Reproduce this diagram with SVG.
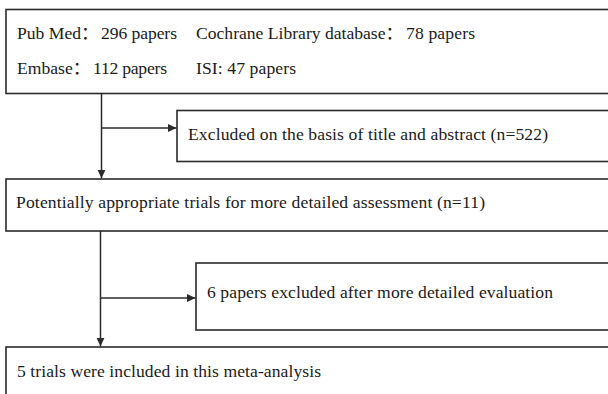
<svg xmlns="http://www.w3.org/2000/svg" width="608" height="394" viewBox="0 0 608 394">
<style>
.box{fill:#ffffff;stroke:#2a2a2a;stroke-width:1.6}
.t{font-family:"Liberation Serif","Noto Sans CJK SC",serif;font-size:17.6px;fill:#1a1a1a}
.c{fill:none;stroke:#2a2a2a;stroke-width:1.5}
</style>
<defs>
<marker id="ah" markerUnits="userSpaceOnUse" markerWidth="9" markerHeight="9" refX="8.5" refY="4" orient="auto">
<path d="M0,0 L8.5,4 L0,8 z" fill="#2a2a2a"/>
</marker>
</defs>
<rect width="608" height="394" fill="#ffffff"/>
<g id="sources">
<rect class="box" x="6" y="9.5" width="620" height="84"/>
<text class="t" x="17" y="39">Pub Med：</text>
<text class="t" x="101" y="39" textLength="76" lengthAdjust="spacing">296 papers</text>
<text class="t" x="196" y="39">Cochrane Library database：</text>
<text class="t" x="406" y="39" textLength="69" lengthAdjust="spacing">78 papers</text>
<text class="t" x="17" y="74">Embase：</text>
<text class="t" x="93" y="74" textLength="74" lengthAdjust="spacing">112 papers</text>
<text class="t" x="196" y="74" textLength="100" lengthAdjust="spacing">ISI: 47 papers</text>
</g>
<g id="excluded1">
<rect class="box" x="177" y="110.5" width="450" height="51"/>
<text class="t" x="188" y="140" textLength="360" lengthAdjust="spacing">Excluded on the basis of title and abstract (n=522)</text>
</g>
<g id="potential">
<rect class="box" x="6" y="179" width="620" height="52"/>
<text class="t" x="16" y="208" textLength="469" lengthAdjust="spacing">Potentially appropriate trials for more detailed assessment (n=11)</text>
</g>
<g id="excluded2">
<rect class="box" x="196" y="263" width="430" height="67"/>
<text class="t" x="207" y="298" textLength="346" lengthAdjust="spacing">6 papers excluded after more detailed evaluation</text>
</g>
<g id="included">
<rect class="box" x="6" y="347" width="620" height="60"/>
<text class="t" x="17" y="377" textLength="304" lengthAdjust="spacing">5 trials were included in this meta-analysis</text>
</g>
<g id="connectors">
<line class="c" x1="101.5" y1="93.5" x2="101.5" y2="178.3" marker-end="url(#ah)"/>
<line class="c" x1="101.5" y1="128" x2="176.5" y2="128" marker-end="url(#ah)"/>
<line class="c" x1="100.5" y1="231" x2="100.5" y2="346.3" marker-end="url(#ah)"/>
<line class="c" x1="100.5" y1="298" x2="195.5" y2="298" marker-end="url(#ah)"/>
</g>
</svg>
